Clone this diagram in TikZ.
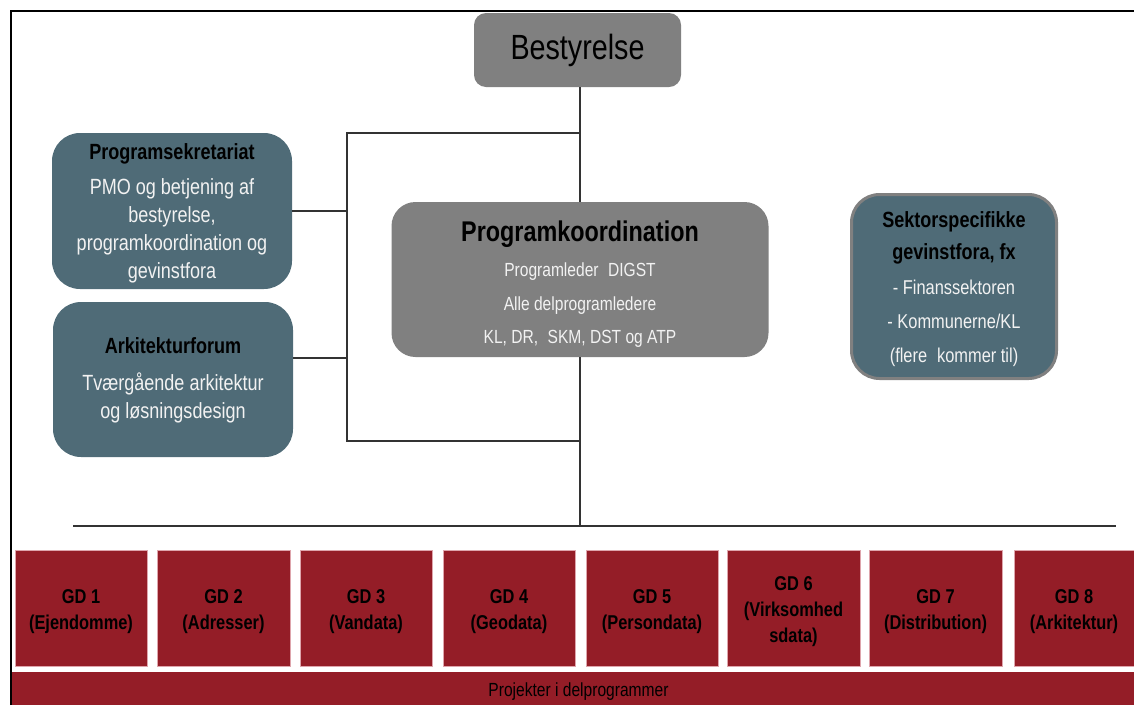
\documentclass[tikz,border=0pt]{standalone}
\usepackage{fontspec}
\setmainfont{Liberation Sans}[FakeStretch=0.82]
\usepackage{tikz}
\definecolor{petrol}{RGB}{79,107,119}
\definecolor{midgrey}{RGB}{128,128,128}
\definecolor{gdred}{RGB}{148,29,39}
\definecolor{gdedge}{RGB}{222,165,172}
\definecolor{pale}{RGB}{242,242,242}
\newcommand{\fs}[2]{\fontsize{#1}{#2}\selectfont}
\newcommand{\lift}[1]{\rule{0pt}{#1}}

\begin{document}
\begin{tikzpicture}[x=1pt, y=-1pt,
	forum/.style={fill=petrol, rounded corners=28pt, align=center, text=pale, inner sep=0pt, font=\fs{22}{28}},
	koord/.style={fill=midgrey, rounded corners=24pt, align=center, inner sep=0pt},
	gdbox/.style={fill=gdred, draw=gdedge, line width=0.8pt, align=center, inner sep=0pt, minimum height=116, font=\fs{20}{26}\bfseries},
	link/.style={draw=black!80, line width=1.3pt}]
	\useasboundingbox (0,0) rectangle (1134,705);

	\node[koord, rounded corners=12pt, minimum width=207, minimum height=74, font=\fs{35}{40}] (best) at (577.5,50) {\lift{27pt}Bestyrelse};
	\node[koord, minimum width=377, minimum height=155, text=pale, font=\fs{19}{33.5}] (prog) at (580,279.5)
		{\lift{30pt}{\color{black}\bfseries\fs{28.5}{33.5}Programkoordination}\\[1.5pt] Programleder\enspace DIGST\\ Alle delprogramledere\\ KL, DR,\enspace SKM, DST og ATP};
	\node[forum, minimum width=240, minimum height=156] (sekr) at (172,211)
		{\lift{21pt}{\color{black}\bfseries Programsekretariat}\\[7pt] PMO og betjening af\\ bestyrelse,\\ programkoordination og\\ gevinstfora};
	\node[forum, minimum width=240, minimum height=155] (ark) at (173,379.5)
		{\lift{18pt}{\color{black}\bfseries Arkitekturforum}\\[9pt] Tværgående arkitektur\\ og løsningsdesign};
	\node[forum, draw=midgrey, line width=3pt, minimum width=205, minimum height=184, font=\fs{20}{34}] (sektor) at (954,286.5)
		{\lift{22pt}{\color{black}\bfseries\fs{22}{34}Sektorspecifikke}\\[-2pt] {\color{black}\bfseries\fs{22}{34}gevinstfora, fx}\\[1pt] - Finanssektoren\\ - Kommunerne/KL\\ (flere\enspace kommer til)};

	\coordinate (spinetop) at (347,133);
	\coordinate (spinebot) at (347,441);
	\coordinate (arkjoin) at (347,358);
	\coordinate (busL) at (73,526);
	\coordinate (busR) at (1116,526);
	\draw[link] (prog.north |- best.south) -- (prog.north);
	\draw[link] (prog.north |- spinetop) -- (spinetop) -- (spinebot) -- (prog.south |- spinebot);
	\draw[link] (sekr.east) -- (sekr.east -| spinetop);
	\draw[link] (arkjoin -| ark.east) -- (arkjoin);
	\draw[link] (prog.south) -- (prog.south |- busL);
	\draw[link, line width=1.6pt] (busL) -- (busR);

	\foreach \i/\cx/\w/\txt in {1/81/132/{GD 1\\(Ejendomme)}, 2/223.5/133/{GD 2\\(Adresser)},
		3/366/132/{GD 3\\(Vandata)}, 4/509/132/{GD 4\\(Geodata)}, 5/652/132/{GD 5\\(Persondata)},
		6/793.5/133/{GD 6\\(Virksomhed\\sdata)}, 7/935.5/133/{GD 7\\(Distribution)}, 8/1074/120/{GD 8\\(Arkitektur)}}
		\node[gdbox, minimum width=\w] (gd\i) at (\cx,608) {\lift{21pt}\txt};

	\node[fill=gdred, minimum width=1135, minimum height=33, inner sep=0pt, text height=19pt, font=\fs{19}{22}] (bar) at (578.5,688.5) {Projekter i delprogrammer};

	\draw[line width=2pt] (11,705) -- (11,11) -- (1134,11);
\end{tikzpicture}
\end{document}
